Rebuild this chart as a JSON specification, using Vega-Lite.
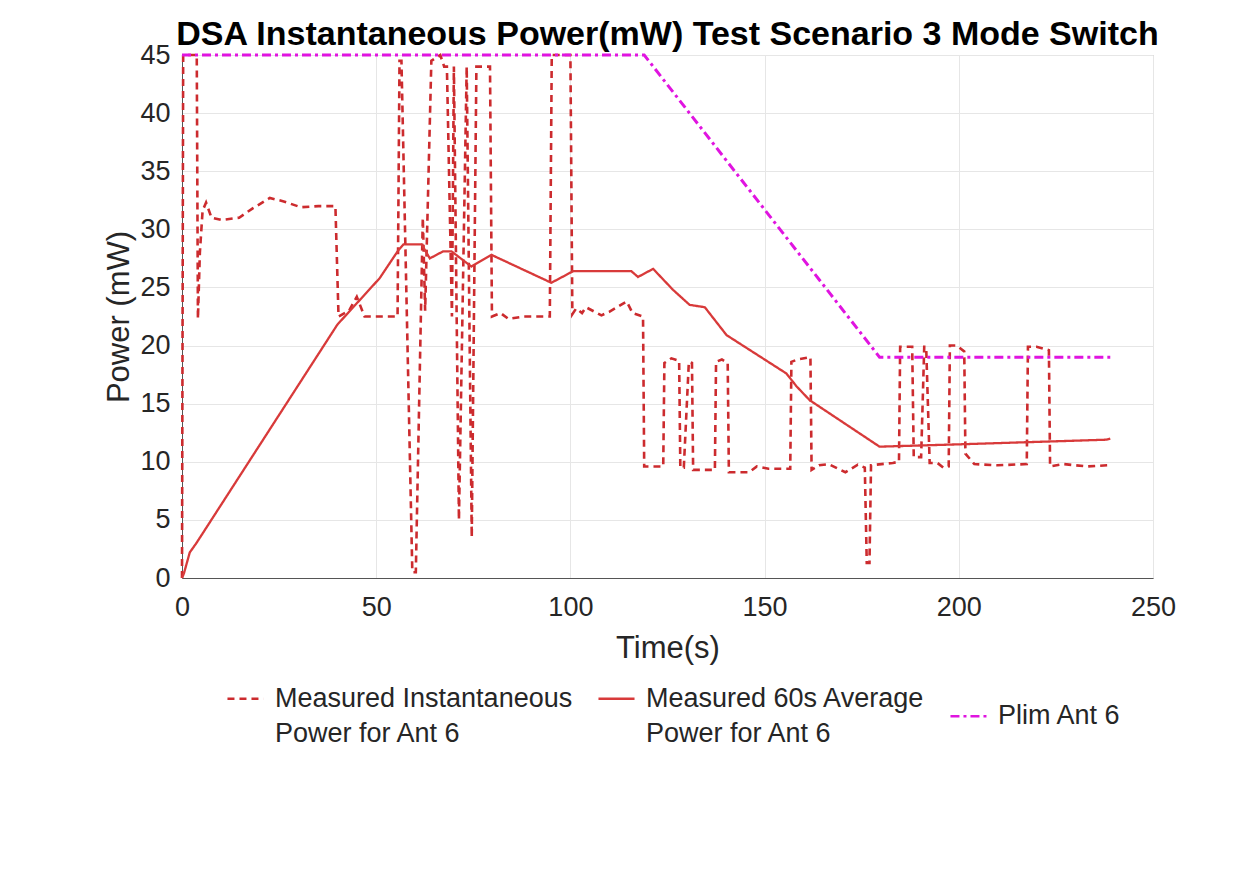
{
  "$schema": "https://vega.github.io/schema/vega-lite/v6.json",
  "width": 971,
  "height": 523,
  "autosize": {"type": "none"},
  "padding": {"left": 182, "top": 55, "right": 101, "bottom": 291},
  "background": "white",
  "title": {"text": "DSA Instantaneous Power(mW) Test Scenario 3 Mode Switch", "font": "Liberation Sans", "fontSize": 34, "fontWeight": "bold", "color": "#000000", "anchor": "middle", "frame": "group", "baseline": "alphabetic", "offset": 11, "dy": 49},
  "datasets": {
    "inst": [
      {"t":0,"v":0},{"t":0.3,"v":45},{"t":3.8,"v":45},{"t":4.1,"v":22.3},{"t":4.6,"v":28},{"t":5.3,"v":31.6},{"t":6.2,"v":32.3},{"t":7.6,"v":31},{"t":10.2,"v":30.8},{"t":14.7,"v":31},{"t":18.2,"v":31.8},{"t":22.6,"v":32.7},{"t":26.2,"v":32.4},{"t":30.6,"v":31.9},{"t":35.1,"v":32},{"t":39.5,"v":32},{"t":40.3,"v":22.5},{"t":43,"v":23},{"t":45,"v":24.2},{"t":47,"v":22.5},{"t":55.5,"v":22.5},{"t":56,"v":44.5},{"t":56.5,"v":44.5},{"t":59.3,"v":0.5},{"t":60.2,"v":0.5},{"t":62,"v":31},{"t":62.6,"v":23},{"t":64.2,"v":44.5},{"t":66.5,"v":45},{"t":67.5,"v":44},{"t":68.2,"v":44},{"t":69.5,"v":22.5},{"t":70,"v":44},{"t":71.3,"v":5},{"t":72.2,"v":22.5},{"t":73.3,"v":44},{"t":74.6,"v":3.5},{"t":75.8,"v":44},{"t":79.3,"v":44},{"t":79.8,"v":22.5},{"t":82,"v":22.8},{"t":84,"v":22.3},{"t":88,"v":22.5},{"t":94.7,"v":22.5},{"t":95.2,"v":45},{"t":100,"v":45},{"t":100.5,"v":22.7},{"t":101.5,"v":23.2},{"t":103,"v":22.8},{"t":104,"v":23.3},{"t":108,"v":22.6},{"t":110,"v":22.9},{"t":114.5,"v":23.8},{"t":116,"v":22.8},{"t":118.7,"v":22.5},{"t":119,"v":9.6},{"t":123.9,"v":9.6},{"t":124.2,"v":18.5},{"t":126,"v":18.9},{"t":128,"v":18.7},{"t":128.3,"v":9.5},{"t":129.2,"v":9.5},{"t":130.5,"v":18.6},{"t":131.3,"v":18.5},{"t":131.6,"v":9.3},{"t":137.2,"v":9.3},{"t":137.5,"v":18.6},{"t":139,"v":18.8},{"t":140.5,"v":18.5},{"t":140.8,"v":9.1},{"t":146,"v":9.1},{"t":148,"v":9.6},{"t":151,"v":9.4},{"t":156.6,"v":9.4},{"t":156.9,"v":18.6},{"t":158.5,"v":18.8},{"t":161.8,"v":19},{"t":162.1,"v":9.3},{"t":164,"v":9.7},{"t":166.5,"v":9.8},{"t":170.8,"v":9.1},{"t":174,"v":9.75},{"t":175.8,"v":9.5},{"t":176.3,"v":1.3},{"t":177,"v":1.3},{"t":177.4,"v":9.7},{"t":183,"v":9.9},{"t":184.6,"v":10},{"t":184.9,"v":19.9},{"t":188,"v":19.9},{"t":188.4,"v":10.4},{"t":190.3,"v":10.4},{"t":191.1,"v":19.9},{"t":191.6,"v":19.9},{"t":192.5,"v":9.9},{"t":194.5,"v":9.9},{"t":196,"v":9.5},{"t":197.4,"v":9.6},{"t":197.7,"v":20},{"t":199.5,"v":20},{"t":201.4,"v":19.5},{"t":201.7,"v":10.7},{"t":204,"v":9.8},{"t":210,"v":9.7},{"t":217.5,"v":9.8},{"t":217.8,"v":19.9},{"t":220,"v":19.9},{"t":223.2,"v":19.6},{"t":223.5,"v":9.6},{"t":227,"v":9.8},{"t":233,"v":9.6},{"t":238.3,"v":9.7}
    ],
    "avg": [
      {"t":0,"v":0},{"t":0.5,"v":0.4},{"t":2,"v":2.2},{"t":3.7,"v":3},{"t":40,"v":21.8},{"t":50.9,"v":25.8},{"t":55.7,"v":28.2},{"t":57,"v":28.7},{"t":61.7,"v":28.7},{"t":63.8,"v":27.5},{"t":67.2,"v":28.1},{"t":69.4,"v":28.1},{"t":74.5,"v":26.8},{"t":79.7,"v":27.8},{"t":95.1,"v":25.4},{"t":100.7,"v":26.4},{"t":115.7,"v":26.4},{"t":117.4,"v":25.9},{"t":121.3,"v":26.6},{"t":126.4,"v":24.8},{"t":130.7,"v":23.5},{"t":134.6,"v":23.3},{"t":140.2,"v":20.9},{"t":155.6,"v":17.6},{"t":158.2,"v":16.5},{"t":161.6,"v":15.3},{"t":179.6,"v":11.3},{"t":200,"v":11.5},{"t":238,"v":11.9},{"t":239,"v":12}
    ],
    "plim": [
      {"t":0,"v":45},{"t":119,"v":45},{"t":179.6,"v":19},{"t":239,"v":19}
    ]
  },
  "encoding": {
    "x": {"field": "t", "type": "quantitative", "scale": {"domain": [0, 250], "nice": false, "zero": false},
      "axis": {"values": [0, 50, 100, 150, 200, 250], "title": "Time(s)", "labelPadding": 16, "titlePadding": 13, "labelFlush": false}},
    "y": {"field": "v", "type": "quantitative", "scale": {"domain": [0, 45], "nice": false},
      "axis": {"values": [0, 5, 10, 15, 20, 25, 30, 35, 40, 45], "title": "Power (mW)", "labelPadding": 12, "titlePadding": 4, "labelFlush": false}}
  },
  "layer": [
    {
      "data": {"name": "inst"},
      "mark": {"type": "line", "strokeWidth": 2.6},
      "encoding": {
        "color": {"datum": "Measured Instantaneous Power for Ant 6", "type": "nominal",
          "scale": {"domain": ["Measured Instantaneous Power for Ant 6", "Measured 60s Average Power for Ant 6", "Plim Ant 6"], "range": ["#cc2b2e", "#d83a3a", "#e014e0"]},
          "legend": {"title": null, "labelExpr": "indexof(datum.label, ' Power') > 0 ? [substring(datum.label, 0, indexof(datum.label, ' Power')), substring(datum.label, indexof(datum.label, ' Power') + 1)] : datum.label"}},
        "strokeDash": {"datum": "Measured Instantaneous Power for Ant 6", "type": "nominal",
          "scale": {"domain": ["Measured Instantaneous Power for Ant 6", "Measured 60s Average Power for Ant 6", "Plim Ant 6"], "range": [[7, 5], [1, 0], [9, 4, 3, 4]]},
          "legend": {"title": null, "labelExpr": "indexof(datum.label, ' Power') > 0 ? [substring(datum.label, 0, indexof(datum.label, ' Power')), substring(datum.label, indexof(datum.label, ' Power') + 1)] : datum.label"}}
      }
    },
    {
      "data": {"name": "avg"},
      "mark": {"type": "line", "strokeWidth": 2.3},
      "encoding": {
        "color": {"datum": "Measured 60s Average Power for Ant 6", "type": "nominal"},
        "strokeDash": {"datum": "Measured 60s Average Power for Ant 6", "type": "nominal"}
      }
    },
    {
      "data": {"name": "plim"},
      "mark": {"type": "line", "strokeWidth": 3},
      "encoding": {
        "color": {"datum": "Plim Ant 6", "type": "nominal"},
        "strokeDash": {"datum": "Plim Ant 6", "type": "nominal"}
      }
    }
  ],
  "config": {
    "view": {"stroke": "#b0b0b0", "strokeWidth": 1},
    "style": {"guide-label": {"lineHeight": 35}},
    "axis": {
      "labelFont": "Liberation Sans", "labelFontSize": 27, "labelColor": "#262626",
      "titleFont": "Liberation Sans", "titleFontSize": 31, "titleFontWeight": "normal", "titleColor": "#262626",
      "gridColor": "#e6e6e6", "gridWidth": 1, "domainColor": "#555555", "ticks": false
    },
    "legend": {
      "orient": "none", "legendX": 44, "legendY": 624, "direction": "horizontal",
      "labelFont": "Liberation Sans", "labelFontSize": 27, "labelColor": "#262626", "labelLimit": 500,
      "symbolType": "stroke", "symbolSize": 1300, "symbolStrokeWidth": 2.6, "labelOffset": 10, "columnPadding": 20
    }
  }
}
